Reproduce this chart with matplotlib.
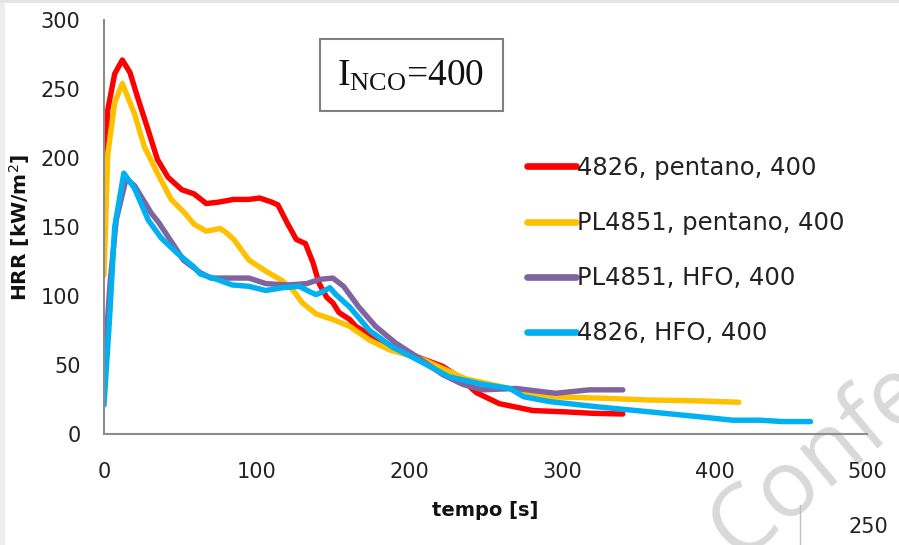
import matplotlib
matplotlib.use("Agg")
import matplotlib.pyplot as plt
from matplotlib.patches import Rectangle
from matplotlib.lines import Line2D

# ---------------- data ----------------
red_t = [0, 2.5, 7, 12, 17, 22, 29, 35, 42, 51, 59, 67, 75, 85, 95, 102, 110, 114,
         120, 126, 132, 137, 141, 146, 150, 154, 161, 165, 183, 205, 222, 233, 244,
         259, 281, 303, 320, 340]
red_y = [165, 235, 261, 271, 262, 244, 220, 199, 186, 177, 174, 167, 168, 170, 170,
         171, 168, 166, 153, 141, 138, 124, 109, 99, 95, 88, 83, 78, 66, 56, 49, 41,
         30, 22, 17, 16, 15, 14.5]

yel_t = [0, 2.5, 7, 12, 20, 26.5, 35, 44, 53, 59, 67, 72, 76, 80, 85, 95, 106, 117,
         124, 130, 139, 150, 161, 174, 187, 209, 237, 270, 292, 325, 358, 390, 416]
yel_y = [115, 203, 240, 254, 232, 208, 189, 170, 160, 152, 147, 148, 149, 146, 141,
         126, 118, 111, 104, 95, 87, 83, 78, 68, 61, 54, 40, 32, 27, 26, 24.6, 24, 23]

pur_t = [0, 4, 8, 14.5, 20, 31, 36, 45, 52, 63, 70, 80, 95, 106, 120, 133, 141, 150,
         157, 167, 178, 191, 205, 222, 235, 248, 270, 296, 318, 340]
pur_y = [45, 110, 155, 185, 180, 160, 153, 138, 126, 117, 113, 113, 113, 109, 108,
         109, 112, 113, 107, 92, 78, 66, 56, 43, 36, 32, 33, 29.5, 32, 32]

blu_t = [0, 3.6, 7, 13, 20, 29, 37.5, 48, 59, 63, 74, 84, 95, 106, 117, 128, 135,
         139, 143, 148, 152, 161, 174, 189, 205, 226, 248, 266, 275, 292, 325, 358,
         390, 412, 430, 445, 463]
blu_y = [21, 83, 150, 189, 178, 155, 142, 131, 121, 116, 112, 108, 107, 104, 106,
         107, 103, 101, 103, 106, 101, 92, 75, 63, 54, 41.5, 36, 33, 27, 23.5, 19.5,
         16, 12.5, 10, 10, 9, 9]

labels = ["4826, pentano, 400", "PL4851, pentano, 400", "PL4851, HFO, 400",
          "4826, HFO, 400"]
colors = ["#FF0000", "#FFC000", "#8064A2", "#00B0F0"]
x_ticks = [0, 100, 200, 300, 400, 500]
y_ticks = [0, 50, 100, 150, 200, 250, 300]

# ---------------- figure ----------------
W, H = 899, 545
fig = plt.figure(figsize=(W / 100, H / 100), dpi=100)
fig.patch.set_facecolor("white")
SANS = "DejaVu Sans"

def fx(px):
    return px / W

def fy(py):
    return 1 - py / H

# light gray screenshot borders
fig.add_artist(Rectangle((0, 0), fx(5), 1, transform=fig.transFigure,
                         facecolor="#eeeeee", edgecolor="none", zorder=0))
fig.add_artist(Rectangle((0, fy(3)), 1, 3 / H, transform=fig.transFigure,
                         facecolor="#e4e4e4", edgecolor="none", zorder=0))

ax = fig.add_axes([fx(104), fy(434), fx(867) - fx(104), fy(20) - fy(434)])
ax.set_facecolor("none")

series = [(red_t, red_y), (yel_t, yel_y), (pur_t, pur_y), (blu_t, blu_y)]
for (t, y), c, lab in zip(series, colors, labels):
    ax.plot(t, y, color=c, lw=3.9, label=lab, solid_capstyle="round",
            solid_joinstyle="round")

ax.set_xlim(0, 500)
ax.set_ylim(0, 300)
ax.set_xticks(x_ticks)
ax.set_yticks(y_ticks)
for s in ["top", "right"]:
    ax.spines[s].set_visible(False)
for s in ["left", "bottom"]:
    ax.spines[s].set_color("#8c8c8c")
    ax.spines[s].set_linewidth(1.5)
ax.tick_params(length=0, labelsize=15, colors="#222222")
ax.tick_params(axis="x", pad=20)
ax.tick_params(axis="y", pad=17)
for lbl in ax.get_xticklabels() + ax.get_yticklabels():
    lbl.set_family(SANS)

ax.set_xlabel("tempo [s]", family=SANS, fontweight="bold", fontsize=14,
              color="#111111", labelpad=14)
ax.set_ylabel("HRR [kW/m$^2$]", family=SANS, fontweight="bold", fontsize=14.5,
              color="#111111", labelpad=6)

leg = ax.legend(loc="upper left", bbox_to_anchor=(fx(527), fy(156)),
                bbox_transform=fig.transFigure, frameon=False,
                prop={"family": SANS, "size": 17.5}, handlelength=2.0,
                handletextpad=0.05, labelspacing=1.28, borderaxespad=0,
                borderpad=0)
for txt in leg.get_texts():
    txt.set_color("#222222")
for h in leg.legend_handles:
    h.set_linewidth(4.8)

# I_NCO box
fig.add_artist(Rectangle((fx(320), fy(111)), fx(503) - fx(320), fy(39) - fy(111),
                         transform=fig.transFigure, facecolor="white",
                         edgecolor="#7f7f7f", lw=1.5, zorder=3))
plt.rcParams["mathtext.fontset"] = "custom"
plt.rcParams["mathtext.rm"] = "Liberation Serif"
fig.text(fx(411), fy(76), r"$\mathregular{I_{NCO}}$=400", family="Liberation Serif",
         fontsize=27, ha="center", va="center", zorder=4, color="#111111")

# watermark & screenshot remnants
fig.text(fx(692), fy(578), "Confe", family="Open Sans", fontsize=67,
         color="#d9d9d9", rotation=40, ha="left", va="bottom", zorder=-1)
fig.add_artist(Line2D([fx(800), fx(800)], [fy(505), 0], transform=fig.transFigure,
                      color="#bfbfbf", lw=1))
fig.text(fx(868), fy(527), "250", family=SANS, fontsize=15, color="#222222",
         ha="center", va="center")

fig.savefig("out.png", dpi=100)
